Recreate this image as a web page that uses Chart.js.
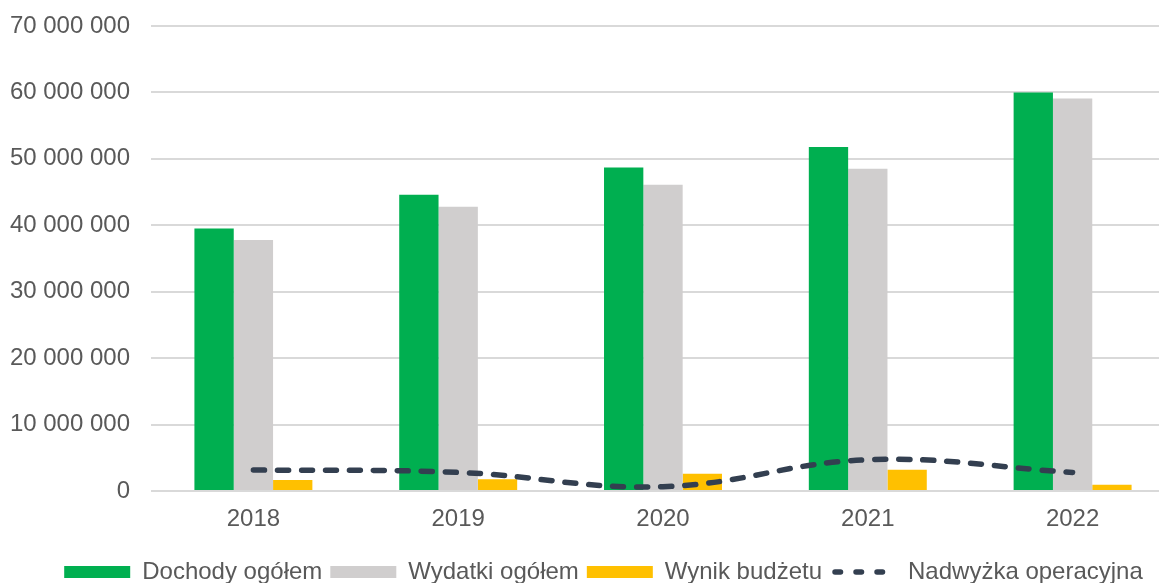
<!DOCTYPE html>
<html>
<head>
<meta charset="utf-8">
<script src="https://cdn.jsdelivr.net/npm/chart.js@4"></script>
<style>
  html, body { margin: 0; padding: 0; background: #ffffff; overflow: hidden; }
  #budget { display: block; }
</style>
</head>
<body>
<canvas id="budget" width="1175" height="583"></canvas>
<script>
const years = ["2018", "2019", "2020", "2021", "2022"];
const incomeTotal = [39500000, 44600000, 48700000, 51800000, 60000000];
const expensesTotal = [37800000, 42800000, 46100000, 48500000, 59100000];
const budgetResult = [1660000, 1760000, 2600000, 3200000, 950000];
const operatingSurplus = [3160000, 2800000, 650000, 4700000, 2800000];

const textColor = "#595959";
const fontFamily = "'Liberation Sans', Arial, sans-serif";

function formatThousands(value) {
  // spaces as thousand separators, like "70 000 000"
  return String(value).replace(/\B(?=(\d{3})+(?!\d))/g, " ");
}

// legend is centred a bit to the right of the canvas middle, and has a fixed height
const legendTweaks = {
  id: "legendTweaks",
  beforeLayout(chart) {
    const legend = chart.legend;
    if (legend && !legend._fitPatched) {
      const originalFit = legend.fit;
      legend.fit = function () {
        originalFit.call(this);
        this.height = 31;
      };
      legend._fitPatched = true;
    }
  },
  afterUpdate(chart) {
    const legend = chart.legend;
    legend.left += 16;
    legend.right += 16;
    legend.adjustHitBoxes();
  },
};

const budgetCanvas = document.getElementById("budget");

new Chart(budgetCanvas, {
  data: {
    labels: years,
    datasets: [
      {
        type: "bar",
        label: "Dochody ogółem",
        data: incomeTotal,
        backgroundColor: "#00AF50",
        order: 2,
      },
      {
        type: "bar",
        label: "Wydatki ogółem",
        data: expensesTotal,
        backgroundColor: "#D0CECE",
        order: 2,
      },
      {
        type: "bar",
        label: "Wynik budżetu",
        data: budgetResult,
        backgroundColor: "#FFC000",
        order: 2,
      },
      {
        type: "line",
        label: "Nadwyżka operacyjna",
        data: operatingSurplus,
        borderColor: "#333F50",
        backgroundColor: "#333F50",
        borderWidth: 5.5,
        borderDash: [11, 13],
        borderCapStyle: "round",
        tension: 0.4,
        pointRadius: 0,
        fill: false,
        order: 1,
      },
    ],
  },
  plugins: [legendTweaks],
  options: {
    responsive: false,
    animation: false,
    devicePixelRatio: 1,
    layout: {
      padding: { top: 26, left: 0, right: 0, bottom: 0 },
    },
    datasets: {
      bar: {
        categoryPercentage: 0.576,
        barPercentage: 1,
      },
    },
    scales: {
      x: {
        afterFit: (scale) => {
          scale.height = 61;
        },
        grid: { display: false, drawTicks: false },
        border: { display: false },
        ticks: {
          color: textColor,
          font: { family: fontFamily, size: 24 },
          padding: 14,
          maxRotation: 0,
        },
      },
      y: {
        min: 0,
        max: 70000000,
        afterFit: (scale) => {
          scale.width = 151;
          scale.paddingTop = 0;
          scale.paddingBottom = 0;
        },
        grid: { color: "#D9D9D9", lineWidth: 2, drawTicks: false },
        border: { display: false },
        ticks: {
          stepSize: 10000000,
          color: textColor,
          font: { family: fontFamily, size: 24 },
          padding: 21,
          callback: (value) => formatThousands(value),
        },
      },
    },
    plugins: {
      tooltip: { enabled: false },
      legend: {
        position: "bottom",
        labels: {
          color: textColor,
          font: { family: fontFamily, size: 24 },
          usePointStyle: true,
          pointStyleWidth: 66,
          boxHeight: 12,
          padding: 8,
          sort: (a, b) => a.datasetIndex - b.datasetIndex,
          generateLabels: (chart) => {
            const items = Chart.defaults.plugins.legend.labels.generateLabels(chart);
            for (const item of items) {
              const isLine = item.datasetIndex === 3;
              item.pointStyle = isLine ? "line" : "rect";
              item.lineWidth = isLine ? 5.5 : 0;
              item.lineCap = "round";
              item.lineDash = isLine ? [5.5, 15.5] : [];
              item.lineDashOffset = isLine ? -5 : 0;
            }
            return items;
          },
        },
      },
    },
  },
});
</script>
</body>
</html>
